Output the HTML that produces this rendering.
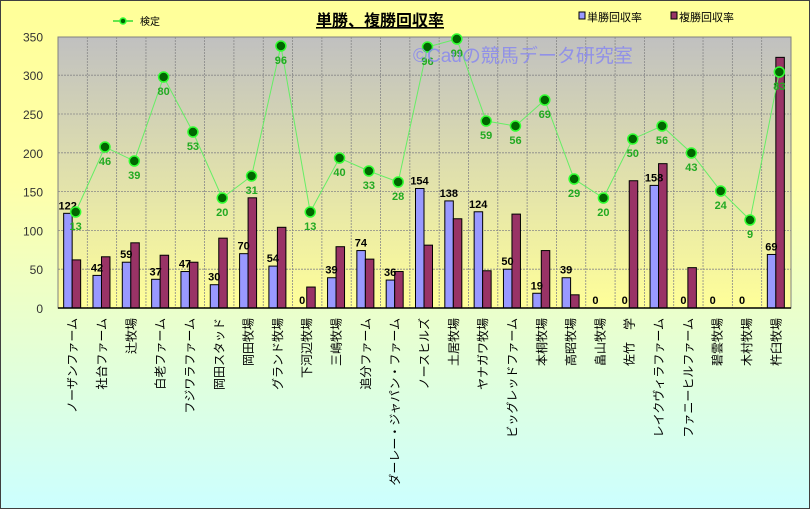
<!DOCTYPE html>
<html><head><meta charset="utf-8"><style>
html,body{margin:0;padding:0;}
body{width:810px;height:509px;overflow:hidden;font-family:"Liberation Sans","Noto Sans CJK JP",sans-serif;}
</style></head><body>
<svg id="s" width="810" height="509" xmlns="http://www.w3.org/2000/svg" style="display:block">
<defs>
<linearGradient id="bg" x1="0" y1="0" x2="0" y2="1">
<stop offset="0" stop-color="#FFFF99"/><stop offset="0.35" stop-color="#FFFFA8"/><stop offset="1" stop-color="#CCFFFF"/>
</linearGradient>
<linearGradient id="pg" x1="0" y1="0" x2="0" y2="1">
<stop offset="0" stop-color="#C0C0C0"/><stop offset="1" stop-color="#FFFF99"/>
</linearGradient>
</defs>
<rect x="0" y="0" width="810" height="509" fill="url(#bg)"/>
<rect x="0.5" y="0.5" width="809" height="508" fill="none" stroke="#404040" stroke-width="1"/>
<rect x="58" y="37" width="733" height="271" fill="url(#pg)" stroke="#808080" stroke-width="1"/>
<g id="g"></g>
<text x="380" y="26" font-size="16" font-weight="bold" text-anchor="middle" text-decoration="underline" fill="#000">単勝、複勝回収率</text>
<line x1="113" y1="21" x2="133" y2="21" stroke="#33dd33" stroke-width="1.5"/>
<circle cx="123" cy="21" r="3" fill="#006600" stroke="#33ff33" stroke-width="1.5"/>
<text x="140" y="25" font-size="10" fill="#000">検定</text>
<rect x="579" y="12" width="6" height="7" fill="#9999FF" stroke="#000" stroke-width="1"/>
<text x="587" y="21" font-size="11" fill="#000">単勝回収率</text>
<rect x="671" y="12" width="6" height="7" fill="#993366" stroke="#000" stroke-width="1"/>
<text x="679" y="21" font-size="11" fill="#000">複勝回収率</text>
</svg>
<script>
var names=["ノーザンファーム","社台ファーム","辻牧場","白老ファーム","フジワラファーム","岡田スタッド","岡田牧場","グランド牧場","下河辺牧場","三嶋牧場","追分ファーム","ダーレー・ジャパン・ファーム","ノースヒルズ","土居牧場","ヤナガワ牧場","ビッグレッドファーム","本桐牧場","高昭牧場","畠山牧場","佐竹　学","レイクヴィラファーム","ファニーヒルファーム","碧雲牧場","木村牧場","杵臼牧場"];
var b=[122,42,59,37,47,30,70,54,0,39,74,36,154,138,124,50,19,39,0,0,158,0,0,0,69];
var r=[62,66,84,68,59,90,142,104,27,79,63,47,81,115,48,121,74,17,0,164,186,52,0,0,323];
var ly=[212,147,161,77,132,198,176,46,212,158,171,182,47,39,121,126,100,179,198,139,126,153,191,220,72];
var lv=[13,46,39,80,53,20,31,96,13,40,33,28,96,99,59,56,69,29,20,50,56,43,24,9,83];
var h="",Y=function(v){return 308-v*0.776;};
for(var k=1;k<7;k++){var y=Y(k*50);h+='<line x1="58" y1="'+y+'" x2="791" y2="'+y+'" stroke="#888" stroke-dasharray="2,1" stroke-width="0.8"/>';}
for(var k=0;k<=7;k++){h+='<text x="43" y="'+(Y(k*50)+5)+'" font-size="12" text-anchor="end" fill="#333">'+(k*50)+'</text>';}
var W=29.32;
for(var i=1;i<25;i++){var x=58+W*i;h+='<line x1="'+x+'" y1="37" x2="'+x+'" y2="308" stroke="#888" stroke-dasharray="2,1" stroke-width="0.8"/>';}
var pts=[];
for(var i=0;i<25;i++){var c=58+W*(i+0.5);
 if(b[i]>0)h+='<rect x="'+(c-9)+'" y="'+Y(b[i])+'" width="8.5" height="'+(b[i]*0.776)+'" fill="#9999FF" stroke="#000" stroke-width="1"/>';
 if(r[i]>0)h+='<rect x="'+(c-0.5)+'" y="'+Y(r[i])+'" width="8.5" height="'+(r[i]*0.776)+'" fill="#993366" stroke="#000" stroke-width="1"/>';
 h+='<text x="'+(c-5)+'" y="'+(Y(b[i])-4)+'" font-size="11" font-weight="bold" text-anchor="middle" fill="#000">'+b[i]+'</text>';
 pts.push((c+3)+','+ly[i]);
 h+='<text x="0" y="0" font-size="12" text-anchor="end" fill="#000" transform="translate('+(c+4)+',318) rotate(-90)" style="font-family:\'Noto Sans CJK JP\',sans-serif">'+names[i]+'</text>';
}
h+='<line x1="58" y1="308" x2="791" y2="308" stroke="#000" stroke-width="1.5"/>';
h+='<polyline points="'+pts.join(' ')+'" fill="none" stroke="#66ee66" stroke-width="1"/>';
for(var i=0;i<25;i++){var c=58+W*(i+0.5)+3;
 h+='<circle cx="'+c+'" cy="'+ly[i]+'" r="5" fill="#006600" stroke="#33ff33" stroke-width="1.5"/>';
 h+='<text x="'+c+'" y="'+(ly[i]+18)+'" font-size="11" font-weight="bold" text-anchor="middle" fill="#22aa22">'+lv[i]+'</text>';
}
h+='<text x="413" y="62" font-size="19" fill="#8888ee" fill-opacity="0.85">©Cauの競馬データ研究室</text>';
document.getElementById("g").innerHTML=h;
</script>
</body></html>
